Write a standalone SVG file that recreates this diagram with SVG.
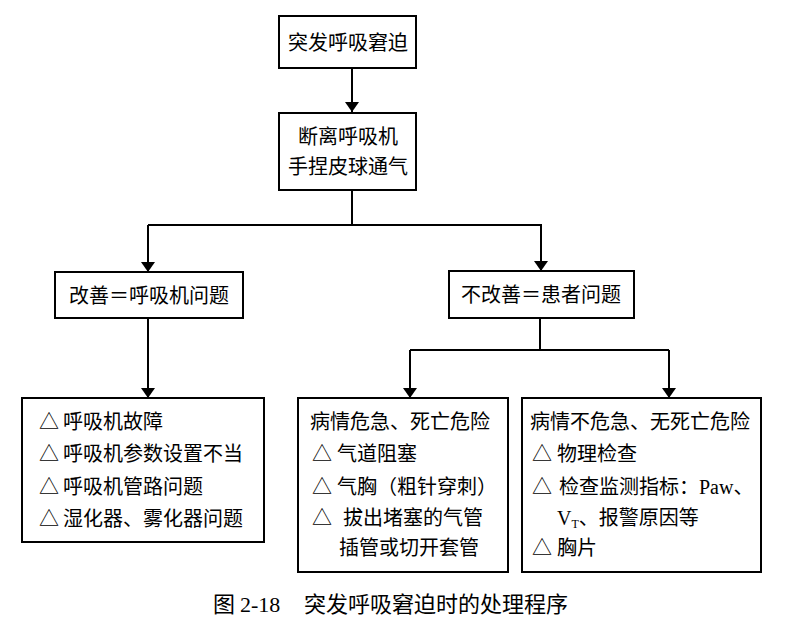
<svg xmlns="http://www.w3.org/2000/svg" width="785" height="628" viewBox="0 0 785 628">
<style>
.box{fill:#fff;stroke:#000;stroke-width:2}
.t{font-family:"Noto Sans CJK SC","Liberation Sans",sans-serif;font-size:20px;fill:#000}
.c{text-anchor:middle}
.ln{fill:none;stroke:#000;stroke-width:2}
.lat{font-family:"Liberation Serif",serif}
.cap{font-size:22px}
</style>
<defs>
<marker id="ah" viewBox="0 0 10 14" refX="10" refY="7" markerWidth="10" markerHeight="14" markerUnits="userSpaceOnUse" orient="auto">
<path d="M0,0 L10,7 L0,14 Z" fill="#000"/>
</marker>
</defs>
<rect width="785" height="628" fill="#fff"/>
<g id="connectors">
<line class="ln" x1="352" y1="68" x2="352" y2="112" marker-end="url(#ah)"/>
<polyline class="ln" points="352,190 352,225"/>
<polyline class="ln" points="148,225 541,225 541,271" marker-end="url(#ah)"/>
<line class="ln" x1="148" y1="225" x2="148" y2="272" marker-end="url(#ah)"/>
<line class="ln" x1="148" y1="318" x2="148" y2="398" marker-end="url(#ah)"/>
<polyline class="ln" points="540,318 540,350"/>
<polyline class="ln" points="410,350 669,350"/>
<line class="ln" x1="410" y1="350" x2="410" y2="398" marker-end="url(#ah)"/>
<line class="ln" x1="669" y1="350" x2="669" y2="398" marker-end="url(#ah)"/>
</g>
<g id="n1">
<rect class="box" x="279" y="16" width="137" height="52"/>
<text class="t c" x="348" y="50">突发呼吸窘迫</text>
</g>
<g id="n2">
<rect class="box" x="279" y="113" width="137" height="77"/>
<text class="t c" x="348" y="144">断离呼吸机</text>
<text class="t c" x="348" y="174">手捏皮球通气</text>
</g>
<g id="n3">
<rect class="box" x="55" y="272" width="188" height="46"/>
<text class="t c" x="149" y="303">改善＝呼吸机问题</text>
</g>
<g id="n4">
<rect class="box" x="449" y="271" width="185" height="47"/>
<text class="t c" x="541" y="302">不改善＝患者问题</text>
</g>
<g id="n5">
<rect class="box" x="22" y="398" width="242" height="144"/>
<text class="t"><tspan x="39" y="429">△</tspan><tspan x="63" y="429">呼吸机故障</tspan></text>
<text class="t"><tspan x="39" y="461">△</tspan><tspan x="63" y="461">呼吸机参数设置不当</tspan></text>
<text class="t"><tspan x="39" y="494">△</tspan><tspan x="63" y="494">呼吸机管路问题</tspan></text>
<text class="t"><tspan x="39" y="526">△</tspan><tspan x="63" y="526">湿化器、雾化器问题</tspan></text>
</g>
<g id="n6">
<rect class="box" x="298" y="398" width="210" height="174"/>
<text class="t" x="310" y="429">病情危急、死亡危险</text>
<text class="t"><tspan x="312" y="461">△</tspan><tspan x="337" y="461">气道阻塞</tspan></text>
<text class="t"><tspan x="312" y="494">△</tspan><tspan x="337" y="494">气胸（粗针穿刺）</tspan></text>
<text class="t"><tspan x="312" y="525">△</tspan><tspan x="343" y="525">拔出堵塞的气管</tspan></text>
<text class="t" x="339" y="555">插管或切开套管</text>
</g>
<g id="n7">
<rect class="box" x="522" y="398" width="239" height="174"/>
<text class="t" x="530" y="429">病情不危急、无死亡危险</text>
<text class="t"><tspan x="532" y="461">△</tspan><tspan x="557" y="461">物理检查</tspan></text>
<text class="t"><tspan x="532" y="494">△</tspan><tspan x="559" y="494">检查监测指标：</tspan><tspan class="lat">Paw</tspan><tspan>、</tspan></text>
<text class="t"><tspan x="557" y="525" class="lat">V</tspan><tspan class="lat" font-size="12" dy="3">T</tspan><tspan dy="-3">、报警原因等</tspan></text>
<text class="t"><tspan x="532" y="555">△</tspan><tspan x="557" y="555">胸片</tspan></text>
</g>
<g id="caption">
<text class="t cap" x="213" y="612">图 <tspan class="lat">2-18</tspan><tspan x="304">突发呼吸窘迫时的处理程序</tspan></text>
</g>
</svg>
